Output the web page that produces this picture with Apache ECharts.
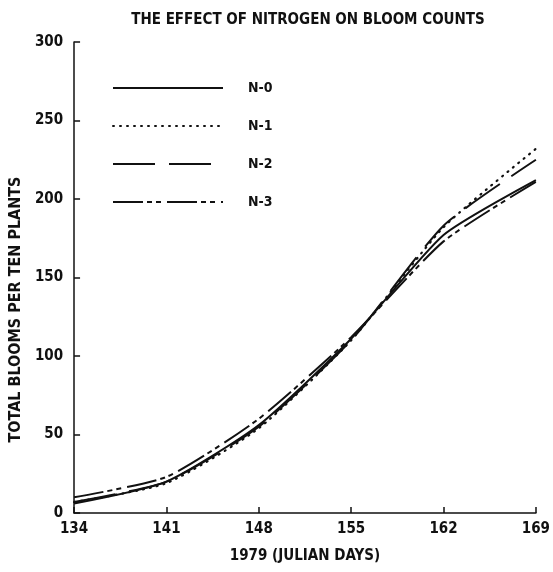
<!DOCTYPE html>
<html>
<head>
<meta charset="utf-8">
<script src="https://cdn.jsdelivr.net/npm/echarts@6/dist/echarts.min.js"></script>
<style>
    html, body { margin: 0; padding: 0; background: #fff; }
    #bloom { width: 553px; height: 572px; }
</style>
</head>
<body>
<div id="bloom"></div>
<script>
var days = ['134', '141', '148', '155', '162', '169'];
var yTicks = [0, 50, 100, 150, 200, 250, 300];
var seriesNames = ['N-0', 'N-1', 'N-2', 'N-3'];
var n0 = [6, 20, 56, 111, 177, 212];
var n1 = [7, 19, 54, 110, 182, 232];
var n2 = [7, 20, 55, 110, 183, 225];
var n3 = [10, 23, 60, 112, 173, 211];

var fontFam = "'Liberation Sans Narrow', 'DejaVu Sans Condensed', 'Liberation Sans', sans-serif";
var ink = '#111';

function bloomChart() {
    var myChart = echarts.init(document.getElementById('bloom'));

    var dashes = ['solid', [1, 6], [42, 14], [30, 4, 5, 4, 5, 6]];
    var values = [n0, n1, n2, n3];

    var dataArr = [];
    values.map(function (v, i) {
        dataArr.push({
            name: seriesNames[i],
            type: 'line',
            data: v,
            symbol: 'none',
            smooth: 0.2,
            lineStyle: {
                color: ink,
                width: i == 1 ? 2.2 : 2,
                type: dashes[i],
                cap: i == 1 ? 'round' : 'butt'
            },
            itemStyle: { color: ink }
        });
    });

    var option = {
        animation: false,
        backgroundColor: '#fff',
        title: {
            text: 'THE EFFECT OF NITROGEN ON BLOOM COUNTS',
            left: 303,
            textAlign: 'center',
            top: 8,
            textStyle: {
                color: ink,
                fontFamily: fontFam,
                fontSize: 15,
                fontWeight: 'bold'
            }
        },
        legend: {
            orient: 'vertical',
            left: 107,
            top: 76,
            itemWidth: 110,
            itemHeight: 14,
            itemGap: 24,
            data: seriesNames,
            itemStyle: { opacity: 0 },
            textStyle: {
                color: ink,
                fontFamily: fontFam,
                fontSize: 14,
                fontWeight: 'bold',
                lineHeight: 14,
                padding: [0, 0, 0, 20]
            }
        },
        grid: {
            left: 64,
            right: 16,
            top: 42,
            bottom: 59
        },
        xAxis: {
            type: 'category',
            data: days,
            boundaryGap: false,
            name: '1979 (JULIAN DAYS)',
            nameLocation: 'middle',
            nameGap: 36,
            nameTextStyle: {
                color: ink,
                fontFamily: fontFam,
                fontSize: 15,
                fontWeight: 'bold'
            },
            axisLine: { lineStyle: { color: ink, width: 1.5 } },
            axisTick: { inside: true, length: 6, lineStyle: { color: ink, width: 1.5 } },
            axisLabel: {
                color: ink,
                fontFamily: fontFam,
                fontSize: 15,
                fontWeight: 'bold',
                margin: 9
            }
        },
        yAxis: {
            type: 'value',
            min: yTicks[0],
            max: yTicks[yTicks.length - 1],
            interval: 50,
            name: 'TOTAL BLOOMS PER TEN PLANTS',
            nameLocation: 'middle',
            nameGap: 42,
            nameTextStyle: {
                color: ink,
                fontFamily: fontFam,
                fontSize: 16,
                fontWeight: 'bold',
                padding: [0, 64, 0, 0]
            },
            axisLine: { show: true, lineStyle: { color: ink, width: 1.5 } },
            axisTick: { show: true, inside: true, length: 6, lineStyle: { color: ink, width: 1.5 } },
            axisLabel: {
                color: ink,
                fontFamily: fontFam,
                fontSize: 15,
                fontWeight: 'bold',
                margin: 11
            },
            splitLine: { show: false }
        },
        series: dataArr
    };

    myChart.setOption(option);
    window.addEventListener("resize", function () {
        myChart.resize();
    });
}

bloomChart();
</script>
</body>
</html>
